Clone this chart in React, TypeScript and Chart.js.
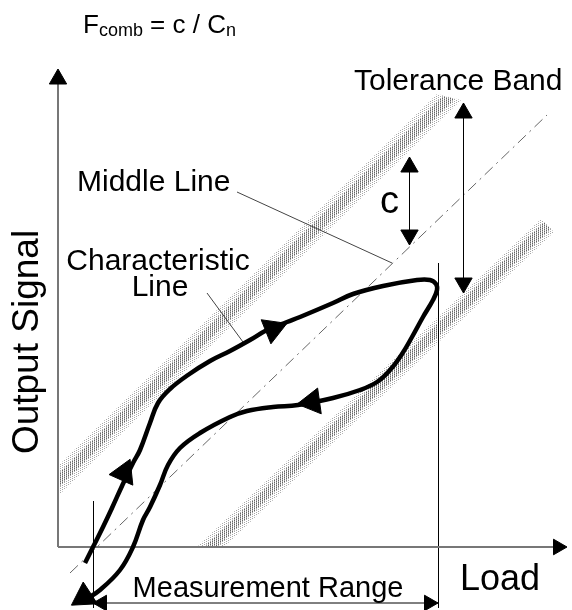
import React, { useEffect, useRef } from "react";
import { Chart, registerables } from "chart.js";

Chart.register(...registerables);

type P = { x: number; y: number };

// Units: Load (x) and Output Signal (y); origin where the two axes cross.
const LOAD_MIN = -58;
const LOAD_MAX = 514;
const SIGNAL_MIN = -63;
const SIGNAL_MAX = 547;

// Characteristic line (hysteresis loop): loading branch up, unloading branch back down.
const characteristicLoop: P[] = [
  { x: 27, y: -16 }, { x: 35, y: 0 }, { x: 45, y: 20 }, { x: 54, y: 39 },
  { x: 64, y: 61 }, { x: 75, y: 84 }, { x: 82, y: 97 }, { x: 92, y: 124 },
  { x: 100, y: 144 }, { x: 112, y: 158 }, { x: 130, y: 172 }, { x: 152, y: 186 },
  { x: 172, y: 196 }, { x: 192, y: 207 }, { x: 209, y: 217 }, { x: 229, y: 225 },
  { x: 242, y: 230 }, { x: 275, y: 244 }, { x: 295, y: 253 }, { x: 325, y: 261 },
  { x: 359, y: 267 }, { x: 372, y: 267 }, { x: 378, y: 263 }, { x: 379, y: 257 },
  { x: 375, y: 247 }, { x: 365, y: 230 }, { x: 354, y: 210 }, { x: 344, y: 193 },
  { x: 332, y: 177 }, { x: 319, y: 165 }, { x: 302, y: 157 }, { x: 275, y: 149 },
  { x: 240, y: 142 }, { x: 215, y: 140 }, { x: 189, y: 136 }, { x: 172, y: 130 },
  { x: 142, y: 114 }, { x: 122, y: 99 }, { x: 110, y: 82 }, { x: 102, y: 62 },
  { x: 92, y: 40 }, { x: 85, y: 27 }, { x: 75, y: 0 }, { x: 62, y: -23 },
  { x: 42, y: -43 }, { x: 27, y: -53 },
];

const middleLine: P[] = [{ x: 12, y: -26 }, { x: 489, y: 432 }];

// Tolerance band edges (outer stipple and denser core)
const upperBandOuter: P[] = [{ x: 379, y: 453 }, { x: 403, y: 447 }, { x: 0, y: 51 }, { x: 0, y: 81 }];
const upperBandCore: P[] = [{ x: 385, y: 451 }, { x: 397, y: 448 }, { x: 0, y: 59 }, { x: 0, y: 73 }];
const lowerBandOuter: P[] = [{ x: 483, y: 328 }, { x: 496, y: 315 }, { x: 166, y: 0 }, { x: 139, y: 0 }];
const lowerBandCore: P[] = [{ x: 486, y: 325 }, { x: 493, y: 318 }, { x: 159, y: 0 }, { x: 146, y: 0 }];

const yAxisLine: P[] = [{ x: 0, y: 0 }, { x: 0, y: 463 }];
const xAxisLine: P[] = [{ x: 0, y: 0 }, { x: 497, y: 0 }];
const rangeEndLine: P[] = [{ x: 380.5, y: 284 }, { x: 380.5, y: -61 }];
const rangeStartLine: P[] = [{ x: 35.5, y: 46 }, { x: 35.5, y: -61 }];
const rangeDimLine: P[] = [{ x: 35, y: -56 }, { x: 380, y: -56 }];
const toleranceDimLine: P[] = [{ x: 405.5, y: 444 }, { x: 405.5, y: 254 }];
const cDimLine: P[] = [{ x: 351.5, y: 390 }, { x: 351.5, y: 302 }];
const middleLeader: P[] = [{ x: 179, y: 355 }, { x: 334, y: 284 }];
const characteristicLeader: P[] = [{ x: 149, y: 254 }, { x: 185, y: 205 }];

// Arrowheads: position, direction (deg, clockwise from up), size
const arrowPoints: P[] = [
  { x: 0, y: 468 }, { x: 500, y: 0 },
  { x: 405.5, y: 434 }, { x: 405.5, y: 264 },
  { x: 351.5, y: 380 }, { x: 351.5, y: 312 },
  { x: 44, y: -56 }, { x: 371, y: -56 },
  { x: 66, y: 74 }, { x: 215, y: 218 }, { x: 254, y: 145 }, { x: 26, y: -50 },
];
const arrowRotations: number[] = [0, 90, 0, 180, 0, 180, 270, 90, 24, 68, 262, 237];
const arrowSizes: number[] = [10, 9, 10, 10, 10, 10, 9, 9, 15, 15, 15, 15];

const labelTexts: string[] = [
  "Tolerance Band", "Middle Line", "Characteristic", "Line", "c",
  "Measurement Range", "Load", "Output Signal",
];
const labelAnchors: P[] = [
  { x: 296, y: 457 }, { x: 19, y: 356 }, { x: 100, y: 277 }, { x: 102, y: 251 },
  { x: 322, y: 334 }, { x: 210, y: -50 }, { x: 402, y: -43 }, { x: -20, y: 205 },
];
const labelSizes: number[] = [30, 30, 30, 30, 38, 29, 36, 37];
const labelAligns: CanvasTextAlign[] = ["left", "left", "center", "center", "left", "center", "left", "center"];
const labelRotations: number[] = [0, 0, 0, 0, 0, 0, 0, -90];

const formulaParts: string[] = ["F", "comb", " = c / C", "n"];
const formulaSubscript: boolean[] = [false, true, false, true];
const formulaAnchor: P = { x: 25, y: 514 };

const FONT = '"Liberation Sans", Arial, Helvetica, sans-serif';

function dotPattern(ctx: CanvasRenderingContext2D, color: string, w: number, h: number, dots: number[][]) {
  const c = document.createElement("canvas");
  c.width = w;
  c.height = h;
  const g = c.getContext("2d")!;
  g.fillStyle = color;
  dots.forEach(([dx, dy]) => g.fillRect(dx, dy, 1, 1));
  return ctx.createPattern(c, "repeat")!;
}

const textPlugin = {
  id: "diagramText",
  afterDatasetsDraw(chart: any) {
    const { ctx } = chart;
    const xs = chart.scales.x;
    const ys = chart.scales.y;
    ctx.save();
    ctx.fillStyle = "#000";
    ctx.textBaseline = "alphabetic";
    labelTexts.forEach((t, i) => {
      const a = labelAnchors[i];
      const px = xs.getPixelForValue(a.x);
      const py = ys.getPixelForValue(a.y);
      ctx.font = `${labelSizes[i]}px ${FONT}`;
      ctx.textAlign = labelAligns[i];
      ctx.save();
      ctx.translate(px, py);
      ctx.rotate((labelRotations[i] * Math.PI) / 180);
      ctx.fillText(t, 0, 0);
      ctx.restore();
    });
    let fx = xs.getPixelForValue(formulaAnchor.x);
    const fy = ys.getPixelForValue(formulaAnchor.y);
    ctx.textAlign = "left";
    formulaParts.forEach((t, i) => {
      const sub = formulaSubscript[i];
      ctx.font = `${sub ? 18 : 26}px ${FONT}`;
      ctx.fillText(t, fx, fy + (sub ? 3 : 0));
      fx += ctx.measureText(t).width;
    });
    ctx.restore();
  },
};

export default function App() {
  const ref = useRef<HTMLCanvasElement | null>(null);

  useEffect(() => {
    const canvas = ref.current!;
    const ctx = canvas.getContext("2d")!;
    const lightDots = dotPattern(ctx, "#a8a8a8", 4, 2, [[0, 0], [2, 1]]);
    const darkDots = dotPattern(ctx, "#666", 4, 2, [[2, 0], [0, 1]]);

    const line = (data: P[], color: string, width: number, order: number, extra: any = {}) => ({
      type: "line",
      data,
      borderColor: color,
      borderWidth: width,
      pointRadius: 0,
      fill: false,
      tension: 0,
      clip: false,
      order,
      ...extra,
    });
    const band = (data: P[], pattern: CanvasPattern, order: number) => ({
      type: "line",
      data,
      borderColor: "rgba(0,0,0,0)",
      borderWidth: 0,
      backgroundColor: pattern,
      pointRadius: 0,
      fill: "shape",
      tension: 0,
      clip: false,
      order,
    });

    const chart = new Chart(canvas, {
      type: "line",
      data: {
        datasets: [
          {
            type: "line",
            data: arrowPoints,
            showLine: false,
            pointStyle: "triangle",
            pointRadius: arrowSizes,
            pointRotation: arrowRotations,
            pointBackgroundColor: "#000",
            pointBorderColor: "#000",
            pointBorderWidth: 1,
            clip: false,
            order: 0,
          },
          line(characteristicLoop, "#000", 4.5, 1, { tension: 0.4 }),
          line(yAxisLine, "#777", 2, 2),
          line(xAxisLine, "#777", 2, 2),
          line(rangeEndLine, "#000", 1, 2),
          line(rangeStartLine, "#000", 1, 2),
          line(rangeDimLine, "#000", 1, 2),
          line(toleranceDimLine, "#000", 1, 2),
          line(cDimLine, "#000", 1, 2),
          line(middleLeader, "#444", 1, 2),
          line(characteristicLeader, "#444", 1, 2),
          line(middleLine, "#666", 1, 3, { borderDash: [11, 5, 2, 5] }),
          band(upperBandCore, darkDots, 5),
          band(upperBandOuter, lightDots, 6),
          band(lowerBandCore, darkDots, 5),
          band(lowerBandOuter, lightDots, 6),
        ] as any,
      },
      options: {
        animation: false,
        responsive: false,
        devicePixelRatio: 1,
        events: [],
        layout: { padding: 0, autoPadding: false },
        elements: { line: { capBezierPoints: false } },
        scales: {
          x: { type: "linear", min: LOAD_MIN, max: LOAD_MAX, display: false },
          y: { type: "linear", min: SIGNAL_MIN, max: SIGNAL_MAX, display: false },
        },
        plugins: {
          legend: { display: false },
          tooltip: { enabled: false },
        },
      },
      plugins: [textPlugin],
    });
    return () => chart.destroy();
  }, []);

  return (
    <canvas
      ref={ref}
      width={572}
      height={610}
      style={{ position: "absolute", left: 0, top: 0, background: "#fff" }}
    />
  );
}
